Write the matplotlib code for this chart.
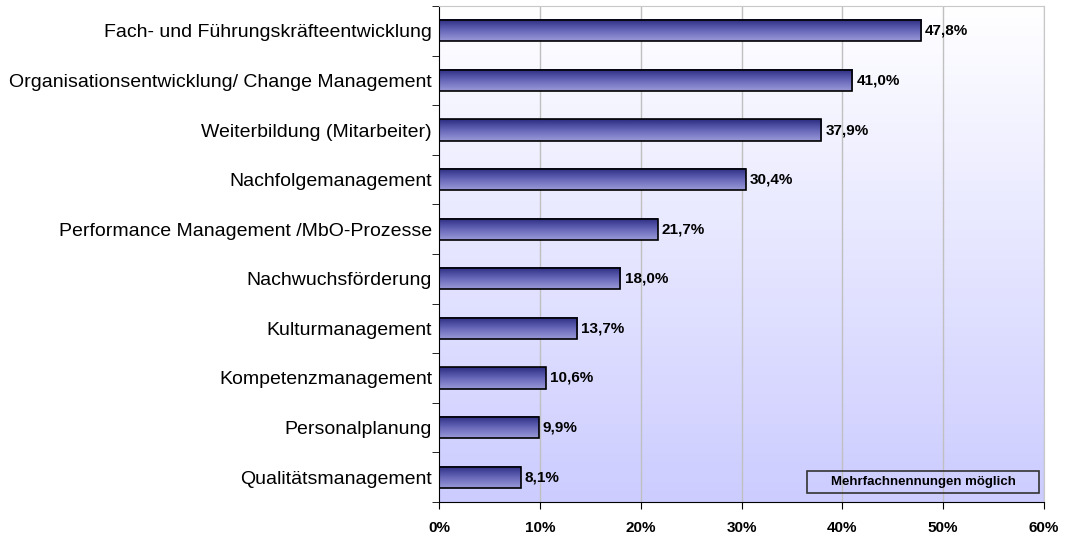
import numpy as np
import matplotlib
matplotlib.use("Agg")
import matplotlib.pyplot as plt
from matplotlib.colors import LinearSegmentedColormap
from matplotlib.patches import Rectangle
from matplotlib.ticker import FixedLocator, FuncFormatter

categories = [
    "Fach- und Führungskräfteentwicklung",
    "Organisationsentwicklung/ Change Management",
    "Weiterbildung (Mitarbeiter)",
    "Nachfolgemanagement",
    "Performance Management /MbO-Prozesse",
    "Nachwuchsförderung",
    "Kulturmanagement",
    "Kompetenzmanagement",
    "Personalplanung",
    "Qualitätsmanagement",
]
values = [47.8, 41.0, 37.9, 30.4, 21.7, 18.0, 13.7, 10.6, 9.9, 8.1]
xticks = [0, 10, 20, 30, 40, 50, 60]

plt.rcParams['font.family'] = ['Liberation Sans', 'DejaVu Sans']

fig = plt.figure(figsize=(10.66, 5.37), dpi=100)
ax = fig.add_axes([0.4118, 0.0652, 0.9794 - 0.4118, 0.9888 - 0.0652])

n = len(categories)
ypos = np.arange(n)

# background gradient: white at top -> lavender at bottom
bg_cmap = LinearSegmentedColormap.from_list("bg", ["#ffffff", "#ccccff"])
grad = np.linspace(0, 1, 256).reshape(-1, 1)
ax.imshow(grad, cmap=bg_cmap, aspect="auto", extent=[0, 1, 0, 1],
          transform=ax.transAxes, origin="upper", zorder=0)

# grid
for x in xticks[1:]:
    ax.axvline(x, color="#c0c0c0", lw=1, zorder=1)

# bars with vertical gradient
bar_cmap = LinearSegmentedColormap.from_list("bar", ["#2a2a80", "#6666b8", "#9a9ad8"])
h = 0.43
for y, v in zip(ypos, values):
    ax.imshow(grad, cmap=bar_cmap, aspect="auto",
              extent=[0, v, y + h / 2, y - h / 2], origin="upper", zorder=2)
    ax.text(v + 0.4, y, f"{v:.1f}%".replace(".", ","), va="center", ha="left",
            fontsize=11, fontweight="bold", zorder=4)
ax.barh(ypos, values, height=h, fill=False, edgecolor="#000000", lw=1.2, zorder=3)

ax.set_xlim(0, 60)
ax.set_ylim(n - 0.5, -0.5)

ax.set_yticks(ypos)
ax.set_yticklabels(categories, fontsize=14)
ax.tick_params(axis="y", which="major", length=0, pad=5)
ax.yaxis.set_minor_locator(FixedLocator(np.arange(-0.5, n, 1.0)))
ax.tick_params(axis="y", which="minor", length=5, direction="out")

ax.set_xticks(xticks)
ax.xaxis.set_major_formatter(FuncFormatter(lambda x, p: f"{int(x)}%"))
ax.tick_params(axis="x", length=5, direction="out", pad=9)
for lab in ax.get_xticklabels():
    lab.set_fontweight("bold")
    lab.set_fontsize(11)

for s in ["top", "right"]:
    ax.spines[s].set_color("#c8c8c8")
ax.spines["left"].set_color("#000000")
ax.spines["bottom"].set_color("#000000")

# note box
ax.add_patch(Rectangle((0.608, 0.018), 0.384, 0.045, transform=ax.transAxes,
                       facecolor="none", edgecolor="#333333", lw=1.2, zorder=5))
ax.text(0.80, 0.041, "Mehrfachnennungen möglich", transform=ax.transAxes,
        ha="center", va="center", fontsize=9.5, fontweight="bold", zorder=5)

fig.savefig("out.png", dpi=100)
